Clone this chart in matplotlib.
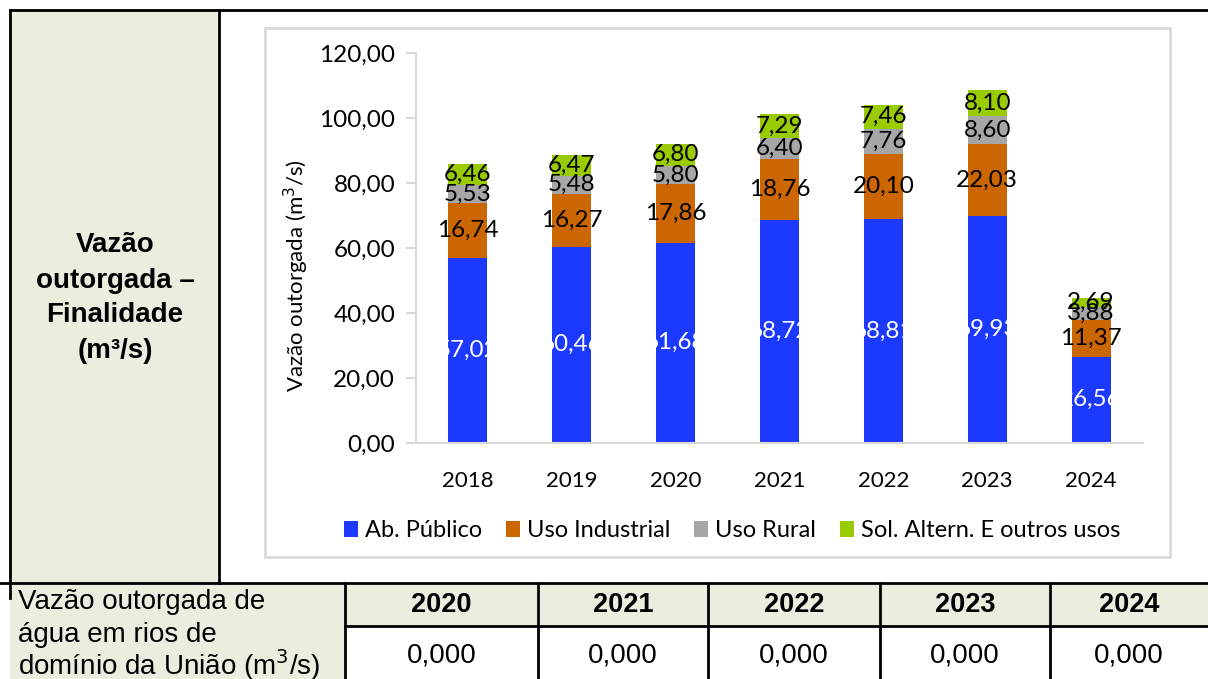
import matplotlib
matplotlib.use("Agg")
import matplotlib.pyplot as plt
from matplotlib.patches import Rectangle
import numpy as np

# data
anos = ["2018", "2019", "2020", "2021", "2022", "2023", "2024"]
ab_publico = [57.02, 60.46, 61.68, 68.72, 68.81, 69.93, 26.56]
uso_industrial = [16.74, 16.27, 17.86, 18.76, 20.10, 22.03, 11.37]
uso_rural = [5.53, 5.48, 5.80, 6.40, 7.76, 8.60, 3.88]
sol_altern = [6.46, 6.47, 6.80, 7.29, 7.46, 8.10, 2.69]
series_names = ["Ab. Público", "Uso Industrial", "Uso Rural", "Sol. Altern. E outros usos"]
colors = ["#1C39FF", "#CC6600", "#A6A6A6", "#99CC00"]

tab_anos = ["2020", "2021", "2022", "2023", "2024"]
tab_vals = [0.0, 0.0, 0.0, 0.0, 0.0]

W, H = 1208, 679
fig = plt.figure(figsize=(W / 100, H / 100), dpi=100)
fig.patch.set_facecolor("white")

# overlay axes in pixel coords for the table layout
bg = fig.add_axes([0, 0, 1, 1], zorder=0)
bg.set_xlim(0, W)
bg.set_ylim(H, 0)
bg.axis("off")

cell_bg = "#EBEEDF"
arial = "Liberation Sans"
chart_font = "Lato"

# left label cell
bg.add_patch(Rectangle((10, 10), 209, 573, facecolor=cell_bg, edgecolor="none"))
bg.plot([10, W], [10, 10], color="black", lw=2)
bg.plot([10, 10], [10, 598], color="black", lw=2)
bg.plot([219, 219], [10, 583], color="black", lw=2)
bg.text(115, 298, "Vazão\noutorgada –\nFinalidade\n(m³/s)", ha="center", va="center",
        fontsize=20, fontweight="bold", family=arial, linespacing=1.45)

# chart frame
bg.add_patch(Rectangle((265, 28), 905, 529, facecolor="white", edgecolor="#D9D9D9", lw=2))

# bottom table
col_x = [345, 538, 708, 880, 1050, W]
bg.add_patch(Rectangle((10, 583), 335, 96, facecolor=cell_bg, edgecolor="none"))
bg.add_patch(Rectangle((345, 583), W - 345, 43, facecolor=cell_bg, edgecolor="none"))
bg.plot([0, W], [583, 583], color="black", lw=2)
bg.plot([345, W], [626, 626], color="black", lw=2)
for x in col_x[:-1]:
    bg.plot([x, x], [583, H], color="black", lw=2)
for i, ano in enumerate(tab_anos):
    xc = (col_x[i] + col_x[i + 1]) / 2
    bg.text(xc, 605, ano, ha="center", va="center", fontsize=19.5, fontweight="bold", family=arial)
    bg.text(xc, 656, f"{tab_vals[i]:.3f}".replace(".", ","), ha="center", va="center",
            fontsize=20, family=arial)
bg.text(18, 602, "Vazão outorgada de", ha="left", va="center", fontsize=20, family=arial)
bg.text(18, 635, "água em rios de", ha="left", va="center", fontsize=20, family=arial)
bg.text(18, 665, "domínio da União (m$^3$/s)", ha="left", va="center", fontsize=20, family=arial)

# chart
ax = fig.add_axes([416 / W, 1 - 443 / H, 727 / W, 390 / H], zorder=2)
ax.patch.set_alpha(0)
x = np.arange(len(anos))
series = [ab_publico, uso_industrial, uso_rural, sol_altern]
bottom = np.zeros(len(anos))
for k, (vals, name, c) in enumerate(zip(series, series_names, colors)):
    bars = ax.bar(x, vals, width=0.375, bottom=bottom, color=c, label=name, zorder=2)
    for b, v, b0 in zip(bars, vals, bottom):
        t = ax.text(b.get_x() + b.get_width() / 2, b0 + v / 2, f"{v:.2f}".replace(".", ","),
                    ha="center", va="center", fontsize=17.5, family=chart_font,
                    color="white" if k == 0 else "black", zorder=3)
        if k == 0:
            t.set_clip_path(b)
    bottom = bottom + np.array(vals)

ax.set_xlim(-0.5, len(anos) - 0.5)
ax.set_ylim(0, 120)
ax.set_yticks(np.arange(0, 121, 20))
ax.set_yticklabels([f"{v:.2f}".replace(".", ",") for v in np.arange(0, 121, 20)],
                   fontsize=17.5, family=chart_font)
ax.set_xticks(x)
ax.set_xticklabels(anos, fontsize=16, family=chart_font)
ax.tick_params(axis="x", length=0, pad=20)
ax.tick_params(axis="y", length=7, color="#D9D9D9", width=1.5, pad=8)
for s in ["top", "right"]:
    ax.spines[s].set_visible(False)
for s in ["left", "bottom"]:
    ax.spines[s].set_color("#D9D9D9")
    ax.spines[s].set_linewidth(1.5)
ax.set_ylabel("Vazão outorgada (m$^3$/s)", fontsize=16, family=chart_font)
ax.yaxis.set_label_coords(-0.144, 0.43)

leg = ax.legend(loc="center", bbox_to_anchor=(0.435, -0.225), ncol=4, frameon=False,
                prop={"family": chart_font, "size": 17}, handlelength=0.6, handleheight=0.7,
                handletextpad=0.3, columnspacing=1.0)

fig.savefig("out.png", dpi=100)
